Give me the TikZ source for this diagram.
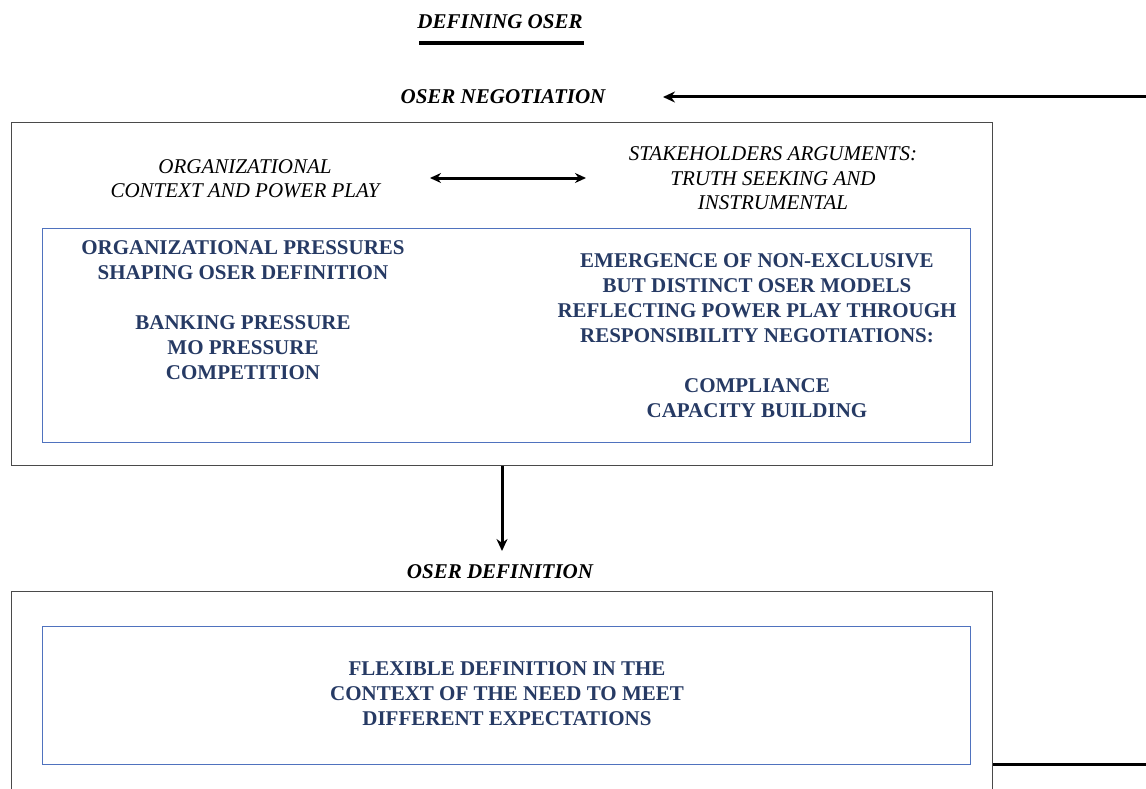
\documentclass[tikz,border=0pt]{standalone}
\usepackage{fontspec}
\setmainfont{Liberation Serif}
\usetikzlibrary{arrows.meta}
\definecolor{navy}{HTML}{263A64}
\definecolor{boxblue}{HTML}{4F72BE}
\definecolor{boxgray}{HTML}{4A4A4A}
\tikzset{
  outerbox/.style={draw=boxgray,line width=1.4pt},
  innerbox/.style={draw=boxblue,line width=1pt},
  headtxt/.style={font=\fontsize{21}{24}\selectfont\bfseries\itshape,inner sep=0pt},
  ittxt/.style={font=\fontsize{21}{24.5}\selectfont\itshape,align=center,inner sep=0pt},
  bdtxt/.style={font=\fontsize{21}{25}\selectfont\bfseries,text=navy,align=center,inner sep=0pt},
  conn/.style={line width=3pt,-{Stealth[length=12pt,width=11pt]}},
}
\begin{document}
\begin{tikzpicture}[x=1pt,y=-1pt]
\useasboundingbox (0,0) rectangle (1146,789);
% title
\node[headtxt] (title) at (500,22) {DEFINING OSER};
\coordinate (ulA) at (419,43);
\coordinate (ulB) at (584,43);
\draw[line width=3.5pt] (ulA) -- (ulB);
% negotiation
\node[headtxt] (neg) at (503,97) {OSER NEGOTIATION};
\coordinate (fbR) at (1146,97);
\coordinate (fbL) at (663,97);
\draw[conn] (fbR) -- (fbL);
% box 1
\node[outerbox,minimum width=981,minimum height=343,anchor=north west,inner sep=0pt] (box1) at (11,122) {};
\node[ittxt] (org) at (245,178.5) {ORGANIZATIONAL\\CONTEXT AND POWER PLAY};
\node[ittxt] (stake) at (773,178.5) {STAKEHOLDERS ARGUMENTS:\\TRUTH SEEKING AND\\INSTRUMENTAL};
\coordinate (daL) at (430,178);
\coordinate (daR) at (586,178);
\draw[line width=3pt,{Stealth[length=11pt,width=10pt]}-{Stealth[length=11pt,width=10pt]}] (daL) -- (daR);
\node[innerbox,minimum width=928,minimum height=214,anchor=north west,inner sep=0pt] (in1) at (42,228) {};
\node[bdtxt] (press) at (243,310.5) {ORGANIZATIONAL PRESSURES\\SHAPING OSER DEFINITION\\[25pt]BANKING PRESSURE\\MO PRESSURE\\COMPETITION};
\node[bdtxt] (emerg) at (757,336) {EMERGENCE OF NON-EXCLUSIVE\\BUT DISTINCT OSER MODELS\\REFLECTING POWER PLAY THROUGH\\RESPONSIBILITY NEGOTIATIONS:\\[25pt]COMPLIANCE\\CAPACITY BUILDING};
% down arrow
\coordinate (dnB) at (502,551);
\draw[conn] (box1.south -| dnB) -- (dnB);
\node[headtxt] (def) at (500,572) {OSER DEFINITION};
% box 2
\node[outerbox,minimum width=981,minimum height=230,anchor=north west,inner sep=0pt] (box2) at (11,591) {};
\node[innerbox,minimum width=928,minimum height=138,anchor=north west,inner sep=0pt] (in2) at (42,626) {};
\node[bdtxt] (flex) at (507,694) {FLEXIBLE DEFINITION IN THE\\CONTEXT OF THE NEED TO MEET\\DIFFERENT EXPECTATIONS};
\coordinate (fbS) at (1146,764);
\draw[line width=3pt] (box2.east |- fbS) -- (fbS);
\end{tikzpicture}
\end{document}
